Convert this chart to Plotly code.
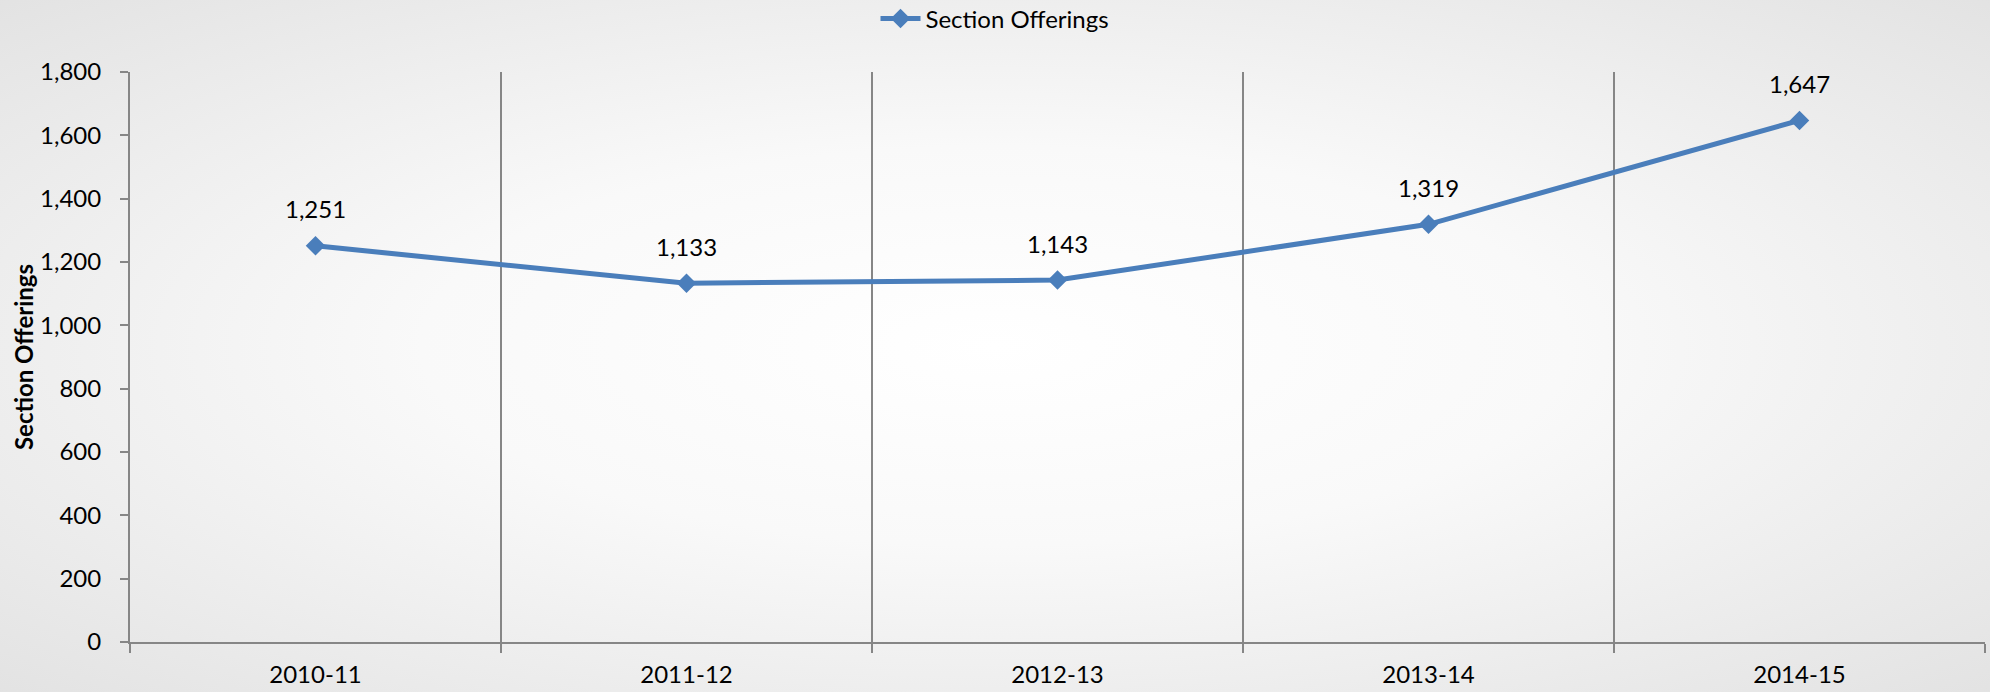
import base64
import plotly.graph_objects as go

categories = ["2010-11", "2011-12", "2012-13", "2013-14", "2014-15"]
offerings = [1251, 1133, 1143, 1319, 1647]
labels = ["1,251", "1,133", "1,143", "1,319", "1,647"]
series_name = "Section Offerings"
y_ticks = [0, 200, 400, 600, 800, 1000, 1200, 1400, 1600, 1800]
y_tick_text = ["0", "200", "400", "600", "800", "1,000", "1,200", "1,400", "1,600", "1,800"]

FONT = "Lato, 'Open Sans', sans-serif"
FS = 24
BLUE = "#4A7EBB"
GRAY = "#868686"

W, H = 1990, 692
ML, MR, MT, MB = 130, 5, 72, 50
PW, PH = W - ML - MR, H - MT - MB

svg = (
    f'<svg xmlns="http://www.w3.org/2000/svg" width="{W}" height="{H}" viewBox="0 0 {W} {H}" preserveAspectRatio="none">'
    '<defs><radialGradient id="g" cx="50%" cy="50%" r="72%" gradientUnits="objectBoundingBox">'
    '<stop offset="0%" stop-color="#ffffff"/><stop offset="40%" stop-color="#f9f9f9"/>'
    '<stop offset="100%" stop-color="#e2e2e2"/></radialGradient></defs>'
    f'<rect width="{W}" height="{H}" fill="url(#g)"/></svg>'
)
bg_uri = "data:image/svg+xml;base64," + base64.b64encode(svg.encode()).decode()

fig = go.Figure()
fig.add_trace(go.Scatter(
    x=categories, y=offerings, name=series_name, mode="lines+markers",
    line=dict(color=BLUE, width=5),
    marker=dict(symbol="diamond", size=15, color=BLUE),
))

for c, v, t in zip(categories, offerings, labels):
    fig.add_annotation(x=c, y=v, text=t, showarrow=False, yshift=37,
                       font=dict(family=FONT, size=FS, color="#000000"))

fig.add_layout_image(dict(source=bg_uri, xref="paper", yref="paper",
                          x=-ML / PW, y=1 + MT / PH,
                          sizex=W / PW, sizey=H / PH, xanchor="left", yanchor="top",
                          sizing="stretch", layer="below"))

fig.update_layout(
    width=W, height=H,
    margin=dict(l=ML, r=MR, t=MT, b=MB, autoexpand=False),
    paper_bgcolor="#ebebeb",
    plot_bgcolor="rgba(0,0,0,0)",
    font=dict(family=FONT, size=FS, color="#000000"),
    showlegend=True,
    legend=dict(orientation="h", x=0.5, xref="container", xanchor="center",
                y=1 - 19 / H, yref="container", yanchor="middle",
                font=dict(family=FONT, size=FS), bgcolor="rgba(0,0,0,0)",
                itemwidth=40),
    xaxis=dict(
        type="category", range=[-0.5, 4.5], automargin=False,
        tickson="boundaries", ticks="outside", ticklen=9, tickwidth=2, tickcolor=GRAY,
        showgrid=True, gridcolor=GRAY, gridwidth=2,
        showline=True, linecolor=GRAY, linewidth=2,
        tickfont=dict(family=FONT, size=FS), zeroline=False,
        ticklabelstandoff=10,
    ),
    yaxis=dict(
        range=[0, 1800], tickvals=y_ticks, ticktext=y_tick_text, automargin=False,
        ticks="outside", ticklen=8, tickwidth=2, tickcolor=GRAY,
        showgrid=False, showline=True, linecolor=GRAY, linewidth=2, zeroline=False,
        tickfont=dict(family=FONT, size=FS),
        ticklabelstandoff=14,
        title=dict(text="<b>Section Offerings</b>", font=dict(family=FONT, size=FS), standoff=0),
    ),
)

fig.write_html(
    "out.html",
    config={"displayModeBar": False},
    post_script="document.body.style.margin='0';document.documentElement.style.overflow='hidden';document.body.style.overflow='hidden';",
)
